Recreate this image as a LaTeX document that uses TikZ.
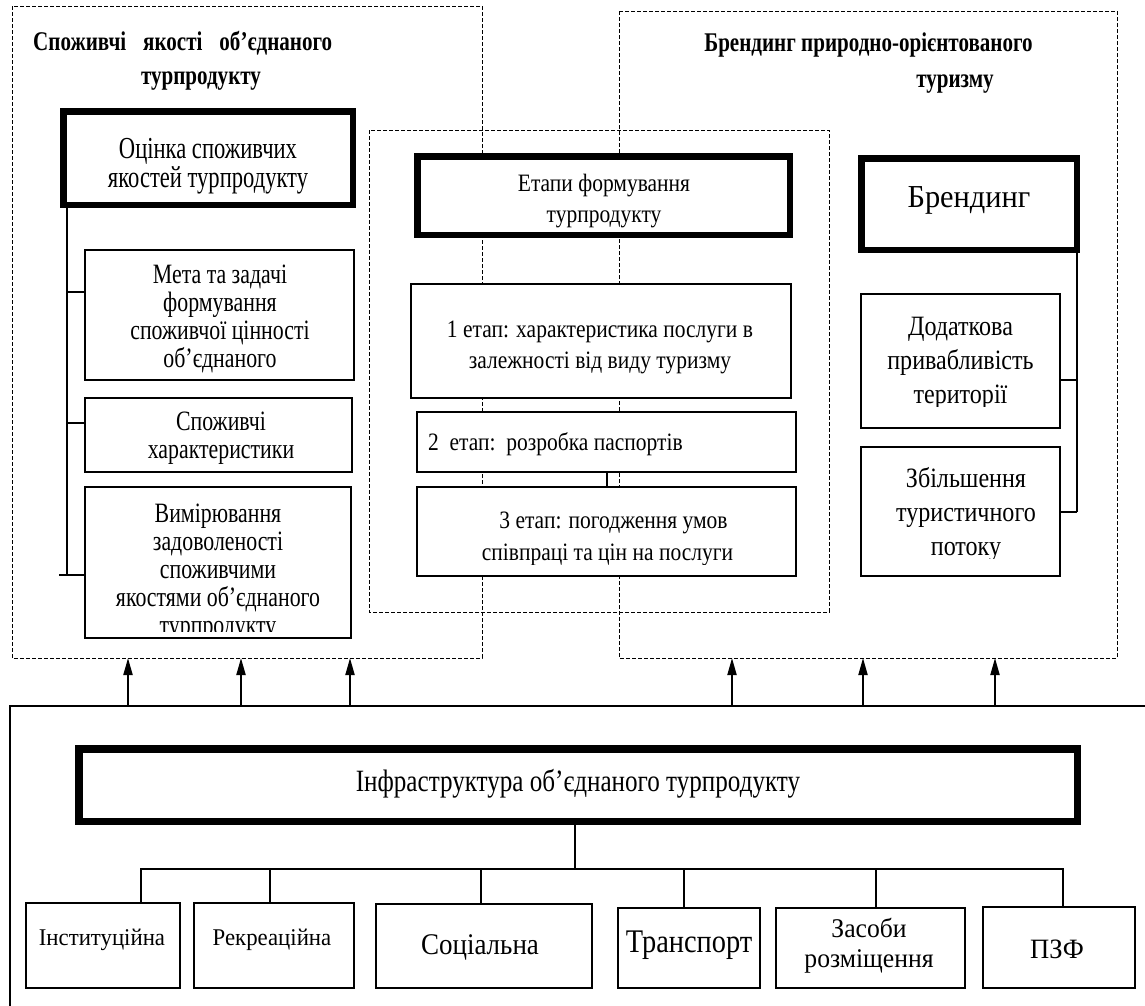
\documentclass[tikz,border=0pt]{standalone}
\usepackage{fontspec}
\setmainfont{Liberation Serif}
\newfontfamily\fsA[FakeStretch=0.78]{Liberation Serif}
\newfontfamily\fsAA[FakeStretch=0.74]{Liberation Serif}
\newfontfamily\fsB[FakeStretch=0.86]{Liberation Serif}
\newfontfamily\fsC[FakeStretch=0.95]{Liberation Serif}
\newfontfamily\fsD[FakeStretch=0.81]{Liberation Serif}
\newfontfamily\fsE[FakeStretch=0.90]{Liberation Serif}
\usetikzlibrary{arrows.meta}
\newcommand{\ts}{\rule{0pt}{0.9em}}
\tikzset{
  dashbox/.style={draw, line width=1pt, dash pattern=on 4pt off 2pt},
  tbox/.style={draw, line width=1.5pt, fill=white, rectangle, inner sep=0pt},
  kbox/.style={draw, line width=6.5pt, fill=white, rectangle, inner sep=0pt},
  conn/.style={line width=2.5pt},
  arr/.style={line width=2pt, -{Triangle[width=9pt,length=17pt]}},
  tx/.style={inner sep=0pt, align=center, anchor=north},
  tl/.style={inner sep=0pt, anchor=base},
  ftitle/.style={font=\fsA\bfseries\fontsize{27}{32}\selectfont},
  fleft/.style={font=\fsA\fontsize{28}{28}\selectfont},
  fmid/.style={font=\fsB\fontsize{25}{31}\selectfont},
  fright/.style={font=\fsB\fontsize{28}{34}\selectfont},
}
\begin{document}
\begin{tikzpicture}[x=1pt,y=-1pt]
\useasboundingbox (0,0) rectangle (1145,1005);

% frames
\draw[dashbox] (12,6) rectangle (482,658);
\draw[dashbox] (619,11) rectangle (1117,658);
\draw[dashbox] (369,130) rectangle (829,612);
\draw[line width=2pt] (10,1012) -- (10,706) -- (1150,706);

% titles
\node[tl, anchor=base west, ftitle] (titL1) at (33,50) {\makebox[299pt][s]{Споживчі якості об’єднаного}};
\node[tl, ftitle] (titL2) at (201,84) {турпродукту};
\node[tl, ftitle] (titR1) at (868.5,51) {Брендинг природно-орієнтованого};
\node[tl, ftitle] (titR2) at (955,87) {туризму};

% thick boxes
\node[kbox, minimum width=289.5pt, minimum height=93.5pt] (ocinka) at (208,158) {};
\node[kbox, minimum width=372.5pt, minimum height=78.5pt] (etapy) at (603.5,195.5) {};
\node[kbox, minimum width=215.5pt, minimum height=91.5pt] (brand) at (969,204) {};
\node[kbox, line width=7.5pt, minimum width=998.5pt, minimum height=72.5pt] (infra) at (578,785) {};

% thin boxes
\node[tbox, minimum width=269pt, minimum height=130pt] (meta) at (219.5,315) {};
\node[tbox, minimum width=267pt, minimum height=74pt] (spozh) at (218.5,435) {};
\node[tbox, minimum width=266pt, minimum height=151pt] (vymir) at (218,562.5) {};
\node[tbox, minimum width=380pt, minimum height=114pt] (etap1) at (601,341) {};
\node[tbox, minimum width=379pt, minimum height=60pt] (etap2) at (606.5,442) {};
\node[tbox, minimum width=379pt, minimum height=89pt] (etap3) at (606.5,531.5) {};
\node[tbox, minimum width=199pt, minimum height=134pt] (dodat) at (960.5,361) {};
\node[tbox, minimum width=199pt, minimum height=129pt] (zbil) at (960.5,511.5) {};
\node[tbox, minimum width=154pt, minimum height=85pt] (inst) at (103,945.5) {};
\node[tbox, minimum width=160pt, minimum height=85pt] (rekr) at (274,945.5) {};
\node[tbox, minimum width=216pt, minimum height=84pt] (soc) at (484,946) {};
\node[tbox, minimum width=142pt, minimum height=80pt] (trans) at (689,948) {};
\node[tbox, minimum width=189pt, minimum height=80pt] (zasoby) at (870.5,948) {};
\node[tbox, minimum width=152pt, minimum height=81pt] (pzf) at (1059,947.5) {};

% left tree
\coordinate (lspine) at (67,575);
\coordinate (lt1) at (67,292);
\coordinate (lt2) at (67,423);
\draw[conn] (lspine |- ocinka.south) -- (lspine);
\draw[conn] (lt1) -- (lt1 -| meta.west);
\draw[conn] (lt2) -- (lt2 -| spozh.west);
\draw[conn] ([xshift=-8pt]lspine) -- (lspine -| vymir.west);

% right tree
\coordinate (rspine) at (1077,512);
\coordinate (rt1) at (1077,380);
\draw[conn] (rspine |- brand.south) -- (rspine);
\draw[conn] (rt1) -- (rt1 -| dodat.east);
\draw[conn] (rspine) -- (rspine -| zbil.east);

% middle
\draw[line width=2pt] (etap2.south) -- (etap3.north);

% bottom tree
\coordinate (bh) at (575,869);
\coordinate (b1) at (141,869);
\coordinate (b2) at (270,869);
\coordinate (b3) at (481,869);
\coordinate (b4) at (684,869);
\coordinate (b5) at (876,869);
\coordinate (b6) at (1063,869);
\draw[conn] (infra.south -| bh) -- (bh);
\draw[conn] (b1 |- inst.north) -- (b1) -- (b6) -- (b6 |- pzf.north);
\draw[conn] (b2) -- (b2 |- rekr.north);
\draw[conn] (b3) -- (b3 |- soc.north);
\draw[conn] (b4) -- (b4 |- trans.north);
\draw[conn] (b5) -- (b5 |- zasoby.north);

% arrows
\foreach \i/\xx in {1/128,2/241,3/350,4/732,5/863,6/995}{
  \coordinate (ab\i) at (\xx,706);
  \coordinate (at\i) at (\xx,658);
  \draw[arr] (ab\i) -- (at\i);
}

% texts
\node[tx, font=\fsAA\fontsize{30.5}{29}\selectfont] (ocinkaT) at (208,131) {\ts Оцінка споживчих\\якостей турпродукту};
\node[tx, fleft] (metaT) at (220,257.8) {\ts Мета та задачі\\формування\\споживчої цінності\\об’єднаного};
\node[tx, fleft] (spozhT) at (221,405) {\ts Споживчі\\характеристики};
\begin{scope}
\clip (86,488) rectangle (350,631);
\node[tx, fleft] (vymirT) at (218,496.8) {\ts Вимірювання\\задоволеності\\споживчими\\якостями об’єднаного\\турпродукту};
\end{scope}

\node[tx, fmid] (etapyT) at (604,168.5) {\ts Етапи формування\\турпродукту};
\node[tx, fmid] (etap1T) at (600,314.5) {\ts 1 етап: характеристика послуги в\\залежності від виду туризму};
\node[tl, anchor=base west, fmid] (etap2T) at (428,450) {2\ \ етап:\ \ розробка паспортів};
\node[tl, fmid] (etap3T) at (613.5,528) {3 етап: погодження умов};
\begin{scope}
\clip (418,488) rectangle (795,564);
\node[tl, fmid] (etap3T2) at (607.5,560) {співпраці та цін на послуги};
\end{scope}

\node[tl, font=\fsC\fontsize{32}{34}\selectfont] (brandT) at (969,207) {Брендинг};
\begin{scope}
\clip (862,295) rectangle (1059,406);
\node[tx, fright] (dodatT) at (960.5,309.8) {\ts Додаткова\\привабливість\\території};
\end{scope}
\begin{scope}
\clip (862,448) rectangle (1059,558);
\node[tx, fright] (zbilT) at (966,461.8) {\ts Збільшення\\туристичного\\потоку};
\end{scope}

\node[tl, font=\fsD\fontsize{31}{34}\selectfont] (infraT) at (578,791) {Інфраструктура об’єднаного турпродукту};

\node[tl, font=\fsC\fontsize{24}{28}\selectfont] (instT) at (102,945) {Інституційна};
\node[tl, font=\fsC\fontsize{24}{28}\selectfont] (rekrT) at (272,945) {Рекреаційна};
\node[tl, font=\fsE\fontsize{30}{32}\selectfont] (socT) at (480,954) {Соціальна};
\node[tl, font=\fsB\fontsize{33}{34}\selectfont] (transT) at (689,952) {Транспорт};
\node[tx, font=\fsC\fontsize{27}{30}\selectfont] (zasobyT) at (869,912.7) {\ts Засоби\\розміщення};
\node[tl, font=\fsC\fontsize{28}{30}\selectfont] (pzfT) at (1057,958) {ПЗФ};
\end{tikzpicture}
\end{document}
